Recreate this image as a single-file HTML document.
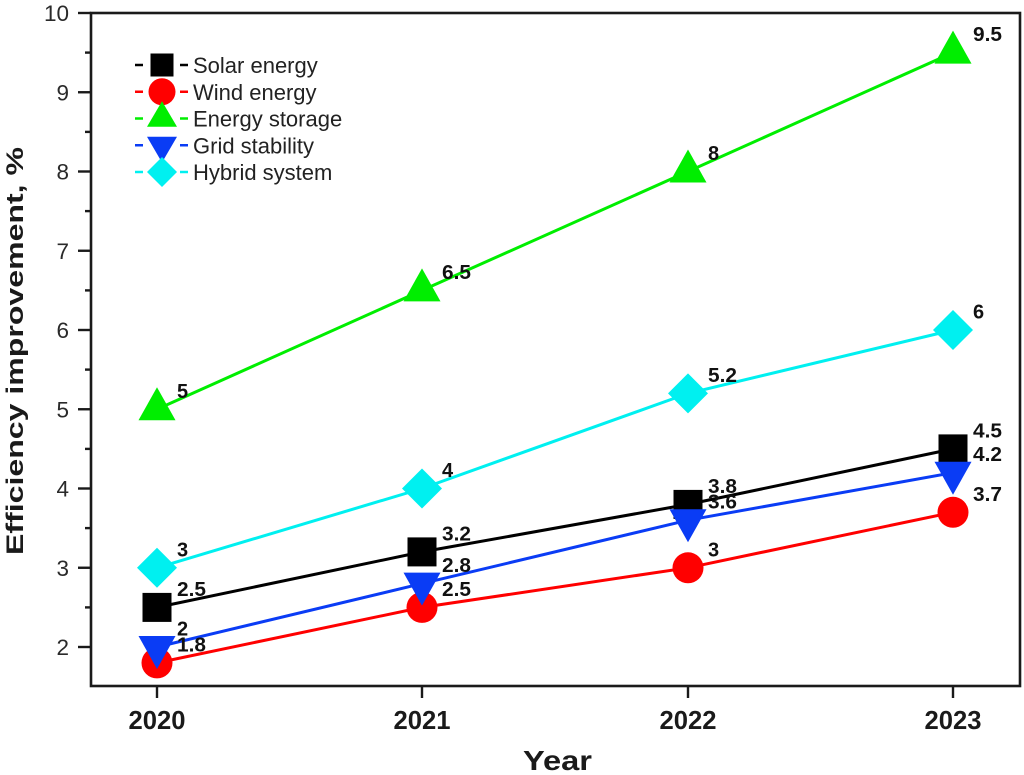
<!DOCTYPE html>
<html><head><meta charset="utf-8"><style>
html,body{margin:0;padding:0;background:#fff;}
svg{display:block;}
text{font-family:"Liberation Sans",Arial,sans-serif;}
</style></head><body>
<svg width="1024" height="775" viewBox="0 0 1024 775" xmlns="http://www.w3.org/2000/svg">
<rect width="1024" height="775" fill="#fff"/>
<!-- frame -->
<rect x="91" y="13" width="929" height="673" fill="none" stroke="#1a1a1a" stroke-width="2.6"/>
<!-- y ticks -->
<g stroke="#1a1a1a" stroke-width="2.4">
<line x1="78" y1="13" x2="91" y2="13"/><line x1="78" y1="92.25" x2="91" y2="92.25"/><line x1="78" y1="171.5" x2="91" y2="171.5"/><line x1="78" y1="250.75" x2="91" y2="250.75"/><line x1="78" y1="330" x2="91" y2="330"/><line x1="78" y1="409.25" x2="91" y2="409.25"/><line x1="78" y1="488.5" x2="91" y2="488.5"/><line x1="78" y1="567.75" x2="91" y2="567.75"/><line x1="78" y1="647" x2="91" y2="647"/>
<line x1="85" y1="52.6" x2="91" y2="52.6"/><line x1="85" y1="131.9" x2="91" y2="131.9"/><line x1="85" y1="211.1" x2="91" y2="211.1"/><line x1="85" y1="290.4" x2="91" y2="290.4"/><line x1="85" y1="369.6" x2="91" y2="369.6"/><line x1="85" y1="448.9" x2="91" y2="448.9"/><line x1="85" y1="528.1" x2="91" y2="528.1"/><line x1="85" y1="607.4" x2="91" y2="607.4"/>
<line x1="157" y1="686" x2="157" y2="698"/><line x1="422" y1="686" x2="422" y2="698"/><line x1="688" y1="686" x2="688" y2="698"/><line x1="953" y1="686" x2="953" y2="698"/>
</g>
<!-- y tick labels -->
<g font-size="22.5" fill="#2a2a2a" text-anchor="end">
<text x="69" y="21">10</text><text x="69" y="100.3">9</text><text x="69" y="179.5">8</text><text x="69" y="258.8">7</text><text x="69" y="338">6</text><text x="69" y="417.3">5</text><text x="69" y="496.5">4</text><text x="69" y="575.8">3</text><text x="69" y="655">2</text>
</g>
<!-- x tick labels -->
<g font-size="26" font-weight="bold" fill="#1a1a1a">
<text x="128.5" y="729" textLength="57" lengthAdjust="spacingAndGlyphs">2020</text>
<text x="393.5" y="729" textLength="57" lengthAdjust="spacingAndGlyphs">2021</text>
<text x="659.5" y="729" textLength="57" lengthAdjust="spacingAndGlyphs">2022</text>
<text x="924.5" y="729" textLength="57" lengthAdjust="spacingAndGlyphs">2023</text>
</g>
<!-- axis titles -->
<text x="523" y="770" font-size="28" font-weight="bold" fill="#1a1a1a" textLength="69" lengthAdjust="spacingAndGlyphs">Year</text>
<text transform="translate(23,555) rotate(-90)" font-size="24" font-weight="bold" fill="#1a1a1a" textLength="408" lengthAdjust="spacingAndGlyphs">Efficiency improvement, %</text>

<!-- Solar energy (black) -->
<polyline points="157,607.4 422,551.9 688,504.4 953,448.9" fill="none" stroke="#000" stroke-width="3"/>
<g fill="#000">
<rect x="142.5" y="592.9" width="29" height="29"/><rect x="407.5" y="537.4" width="29" height="29"/><rect x="673.5" y="489.9" width="29" height="29"/><rect x="938.5" y="434.4" width="29" height="29"/>
</g>
<!-- Wind energy (red) -->
<polyline points="157,662.9 422,607.4 688,567.8 953,512.3" fill="none" stroke="#ff0000" stroke-width="3"/>
<g fill="#ff0000">
<circle cx="157" cy="662.9" r="15.5"/><circle cx="422" cy="607.4" r="15.5"/><circle cx="688" cy="567.8" r="15.5"/><circle cx="953" cy="512.3" r="15.5"/>
</g>
<!-- Energy storage (green) -->
<polyline points="157,409.3 422,290.4 688,171.5 953,52.6" fill="none" stroke="#00ee00" stroke-width="3"/>
<g fill="#00ee00">
<polygon points="157,387.3 138.5,420.3 175.5,420.3"/><polygon points="422,268.4 403.5,301.4 440.5,301.4"/><polygon points="688,149.5 669.5,182.5 706.5,182.5"/><polygon points="953,30.6 934.5,63.6 971.5,63.6"/>
</g>
<!-- Grid stability (blue) -->
<polyline points="157,647 422,583.6 688,520.2 953,472.7" fill="none" stroke="#0a3cf5" stroke-width="3"/>
<g fill="#0a3cf5">
<polygon points="157,669 138.5,636 175.5,636"/><polygon points="422,605.6 403.5,572.6 440.5,572.6"/><polygon points="688,542.2 669.5,509.2 706.5,509.2"/><polygon points="953,494.7 934.5,461.7 971.5,461.7"/>
</g>
<!-- Hybrid system (cyan) -->
<polyline points="157,567.8 422,488.5 688,393.4 953,330" fill="none" stroke="#00f0f0" stroke-width="3"/>
<g fill="#00f0f0">
<polygon points="157,547.8 177,567.8 157,587.8 137,567.8"/><polygon points="422,468.5 442,488.5 422,508.5 402,488.5"/><polygon points="688,373.4 708,393.4 688,413.4 668,393.4"/><polygon points="953,310 973,330 953,350 933,330"/>
</g>

<!-- data labels -->
<g font-size="20" font-weight="bold" fill="#111">
<text x="177" y="596" textLength="29" lengthAdjust="spacingAndGlyphs">2.5</text>
<text x="442" y="540.4" textLength="29" lengthAdjust="spacingAndGlyphs">3.2</text>
<text x="708" y="492.9" textLength="29" lengthAdjust="spacingAndGlyphs">3.8</text>
<text x="973" y="437.4" textLength="29" lengthAdjust="spacingAndGlyphs">4.5</text>
<text x="177" y="651.4" textLength="29" lengthAdjust="spacingAndGlyphs">1.8</text>
<text x="442" y="595.9" textLength="29" lengthAdjust="spacingAndGlyphs">2.5</text>
<text x="708" y="556.3">3</text>
<text x="973" y="500.8" textLength="29" lengthAdjust="spacingAndGlyphs">3.7</text>
<text x="177" y="397.8">5</text>
<text x="442" y="278.9" textLength="29" lengthAdjust="spacingAndGlyphs">6.5</text>
<text x="708" y="160">8</text>
<text x="973" y="41.1" textLength="29" lengthAdjust="spacingAndGlyphs">9.5</text>
<text x="177" y="635.5">2</text>
<text x="442" y="572.1" textLength="29" lengthAdjust="spacingAndGlyphs">2.8</text>
<text x="708" y="508.7" textLength="29" lengthAdjust="spacingAndGlyphs">3.6</text>
<text x="973" y="461.2" textLength="29" lengthAdjust="spacingAndGlyphs">4.2</text>
<text x="177" y="556.3">3</text>
<text x="442" y="477">4</text>
<text x="708" y="381.9" textLength="29" lengthAdjust="spacingAndGlyphs">5.2</text>
<text x="973" y="318.5">6</text>
</g>

<!-- legend -->
<g stroke-width="2.5">
<line x1="135" y1="65" x2="143" y2="65" stroke="#000"/><line x1="180" y1="65" x2="188" y2="65" stroke="#000"/>
<line x1="135" y1="91.75" x2="143" y2="91.75" stroke="#ff0000"/><line x1="180" y1="91.75" x2="188" y2="91.75" stroke="#ff0000"/>
<line x1="135" y1="118.5" x2="143" y2="118.5" stroke="#00ee00"/><line x1="180" y1="118.5" x2="188" y2="118.5" stroke="#00ee00"/>
<line x1="135" y1="145.25" x2="143" y2="145.25" stroke="#0a3cf5"/><line x1="180" y1="145.25" x2="188" y2="145.25" stroke="#0a3cf5"/>
<line x1="135" y1="172" x2="143" y2="172" stroke="#00f0f0"/><line x1="180" y1="172" x2="188" y2="172" stroke="#00f0f0"/>
</g>
<rect x="150.5" y="53.5" width="23" height="23" fill="#000"/>
<circle cx="162" cy="91.75" r="13.5" fill="#ff0000"/>
<polygon points="162,101.2 147,126.8 177,126.8" fill="#00ee00"/>
<polygon points="162,162.5 147,136.8 177,136.8" fill="#0a3cf5"/>
<polygon points="162,157 177,172 162,187 147,172" fill="#00f0f0"/>
<g font-size="22" fill="#222">
<text x="193" y="73">Solar energy</text>
<text x="193" y="99.75">Wind energy</text>
<text x="193" y="126.5">Energy storage</text>
<text x="193" y="153.25">Grid stability</text>
<text x="193" y="180">Hybrid system</text>
</g>
</svg>
</body></html>
